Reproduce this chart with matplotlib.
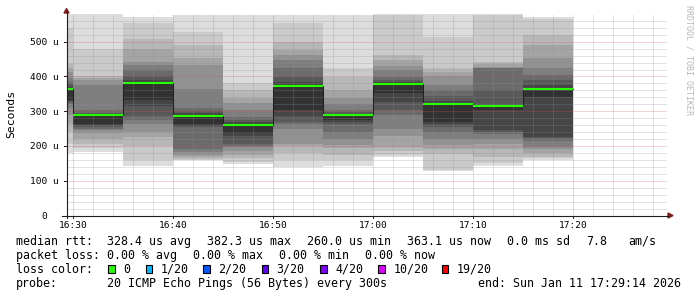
#!/usr/bin/env python3
# -*- coding: utf-8 -*-
"""SmokePing style latency graph: grey smoke bands + green median line."""

import numpy as np
import matplotlib
matplotlib.use("Agg")
import matplotlib.pyplot as plt
from matplotlib.lines import Line2D
from matplotlib.patches import Polygon, Rectangle

# ============================================================
#  data (RTTs in microseconds, 20 pings per 5 minute step)
# ============================================================
step_ends = ["16:30", "16:35", "16:40", "16:45", "16:50", "16:55",
             "17:00", "17:05", "17:10", "17:15", "17:20"]
median_us = [363, 289, 382.3, 287, 260.0, 374, 289, 377, 320, 315, 363.1]
pings_us = [
    [180, 207, 240, 262, 290, 310, 320, 326, 330, 332, 365, 370, 378, 385, 395, 413, 423, 437, 538, 600],
    [183, 195, 207, 221, 236, 245, 250, 255, 259, 262, 288, 292, 296, 303, 375, 389, 396, 400, 479, 600],
    [141, 161, 200, 226, 240, 262, 275, 286, 314, 332, 384, 390, 400, 418, 433, 442, 478, 507, 555, 572],
    [159, 161, 163, 168, 175, 183, 192, 255, 258, 264, 288, 294, 300, 308, 365, 433, 452, 490, 529, 578],
    [147, 155, 165, 175, 185, 197, 200, 207, 228, 236, 260, 268, 275, 284, 303, 323, 337, 361, 380, 578],
    [140, 160, 180, 200, 207, 250, 262, 269, 286, 303, 375, 385, 399, 423, 447, 461, 476, 500, 553, 578],
    [142, 160, 175, 195, 202, 221, 240, 262, 268, 274, 288, 293, 298, 303, 322, 337, 361, 399, 423, 578],
    [168, 175, 185, 197, 230, 250, 290, 303, 327, 351, 378, 383, 390, 399, 418, 430, 447, 461, 577, 579],
    [128, 130, 178, 190, 202, 220, 240, 255, 262, 269, 320, 330, 345, 360, 375, 400, 413, 423, 514, 579],
    [141, 150, 168, 192, 207, 220, 235, 240, 245, 303, 314, 318, 361, 423, 424, 428, 435, 442, 577, 579],
    [161, 164, 168, 180, 192, 197, 215, 224, 226, 341, 365, 375, 390, 404, 423, 452, 490, 519, 565, 572],
]

x_ticks = ["16:30", "16:40", "16:50", "17:00", "17:10", "17:20"]
y_ticks = [0, 100, 200, 300, 400, 500]
y_labels = ["0", "100 u", "200 u", "300 u", "400 u", "500 u"]

rtt_items = ["328.4 us avg", "382.3 us max", "260.0 us min", "363.1 us now"]
loss_items = ["0.00 % avg", "0.00 % max", "0.00 % min", "0.00 % now"]
loss_labels = ["0", "1/20", "2/20", "3/20", "4/20", "10/20", "19/20"]
loss_colors = ["#26ff00", "#00b8ff", "#0059ff", "#5e00ff", "#7e00ff", "#dd00ff", "#ff0000"]

W, H = 697, 297
MONO = "DejaVu Sans Mono"
plt.rcParams["lines.scale_dashes"] = False


def minutes(hhmm):
    h, m = hhmm.split(":")
    return int(h) * 60 + int(m)


def fx(x):
    return x / W


def fy(y):
    return 1 - y / H


fig = plt.figure(figsize=(W / 100, H / 100), dpi=100, facecolor="white")
# plot area in pixels: x 66.5 .. 666.5, y 13.9 .. 215.5
ax = fig.add_axes([fx(66.5), fy(215.5), 600 / W, (215.5 - 13.9) / H])
ax.set_xlim(989.35, 1049.35)
ax.set_ylim(0, 580)
ax.axis("off")

ends = np.array([minutes(t) for t in step_ends], dtype=float)
starts = ends - 5
pings = np.array(pings_us, dtype=float)

# smoke: nested bands, outer pair lightest, inner pair darkest
for k in range(10):
    g = (19 * (9 - k) + 50) / 255
    lo, hi = pings[:, k], pings[:, 19 - k]
    ax.bar(starts, hi - lo, bottom=lo, width=5, align="edge",
           color=(g, g, g), linewidth=0, zorder=1 + k * 0.01)

# grid on top of the smoke (rrdtool style dotted lines)
dots = (0, (0.72, 0.72))
for v in range(20, 580, 20):
    major = v % 100 == 0
    ax.axhline(v, color="#de5050" if major else "#8f8f8f",
               alpha=0.65 if major else 0.8, lw=0.55 if major else 0.45,
               linestyle=dots, zorder=3)
for t in range(990, 1050, 2):
    major = t % 10 == 0
    ax.axvline(t, color="#de5050" if major else "#8f8f8f",
               alpha=0.65 if major else 0.8, lw=0.55 if major else 0.45,
               linestyle=dots, zorder=3)

# median: dark step line, then green segments
xs = np.append(starts, ends[-1])
ys = np.append(median_us, median_us[-1])
ax.step(xs, ys, where="post", color="#202020", lw=0.75, zorder=4)
ax.hlines(median_us, starts, ends, color="#26ff00", lw=1.5, zorder=5)

# axes lines and arrows (figure pixel coordinates)
fig.add_artist(Line2D([fx(66.5), fx(66.5)], [fy(218), fy(11)], color="#1f1f1f", lw=0.8))
fig.add_artist(Line2D([fx(62), fx(669)], [fy(215.5), fy(215.5)], color="#1f1f1f", lw=0.8))
fig.add_artist(Polygon([[fx(64), fy(13)], [fx(69), fy(13)], [fx(66.5), fy(8.5)]],
                       closed=True, color="#801f1f", transform=fig.transFigure))
fig.add_artist(Polygon([[fx(668), fy(213)], [fx(668), fy(218)], [fx(673), fy(215.5)]],
                       closed=True, color="#801f1f", transform=fig.transFigure))

# ticks on the axes
for t in x_ticks:
    xp = 66.5 + (minutes(t) - 989.35) * 10
    fig.add_artist(Line2D([fx(xp), fx(xp)], [fy(215.5), fy(218)], color="#1f1f1f", lw=0.7))
    fig.text(fx(xp), fy(228.3), t, ha="center", va="baseline",
             family=MONO, fontsize=6.8, color="black")
for v, lab in zip(y_ticks, y_labels):
    yp = 215.5 - v * (215.5 - 13.9) / 580
    fig.add_artist(Line2D([fx(64), fx(66.5)], [fy(yp), fy(yp)], color="#1f1f1f", lw=0.7))
    xr = 58.3 if lab.endswith("u") else 47.5
    fig.text(fx(xr), fy(yp + 3.4), lab, ha="right", va="baseline",
             family=MONO, fontsize=6.8, color="black")

fig.text(fx(11), fy(114), "Seconds", rotation=90, ha="center", va="center",
         family=MONO, fontsize=8.2, color="black")
fig.text(fx(689), fy(5), "RRDTOOL / TOBI OETIKER", rotation=270, ha="center", va="top",
         family=MONO, fontsize=6, color="#b8b8b8")

# legend block
fs = 8.4
base1, base2, base3, base4 = 244.7, 258.7, 272.7, 286.7
fig.text(fx(16), fy(base1), "median rtt:", family=MONO, fontsize=fs, va="baseline")
for i, s in enumerate(rtt_items):
    fig.text(fx(107.3 + 100 * i), fy(base1), s, family=MONO, fontsize=fs, va="baseline")
fig.text(fx(506.7), fy(base1), "0.0 ms sd", family=MONO, fontsize=fs, va="baseline")
fig.text(fx(586.7), fy(base1), "7.8", family=MONO, fontsize=fs, va="baseline")
fig.text(fx(628.3), fy(base1), "am/s", family=MONO, fontsize=fs, va="baseline")

fig.text(fx(16), fy(base2), "packet loss:", family=MONO, fontsize=fs, va="baseline")
for i, s in enumerate(loss_items):
    fig.text(fx(107.3 + 86 * i), fy(base2), s, family=MONO, fontsize=fs, va="baseline")

fig.text(fx(16), fy(base3), "loss color:", family=MONO, fontsize=fs, va="baseline")
box_x = [108.3, 145.7, 203.3, 261.7, 320, 378.3, 441.7]
for bx, lab, col in zip(box_x, loss_labels, loss_colors):
    fig.add_artist(Rectangle((fx(bx), fy(273)), 6.5 / W, 8 / H, transform=fig.transFigure,
                             facecolor=col, edgecolor="black", lw=0.8))
    fig.text(fx(bx + 15), fy(base3), lab, family=MONO, fontsize=fs, va="baseline")

fig.text(fx(16), fy(base4), "probe:", family=MONO, fontsize=fs, va="baseline")
fig.text(fx(107.3), fy(base4), "20 ICMP Echo Pings (56 Bytes) every 300s",
         family=MONO, fontsize=fs, va="baseline")
fig.text(fx(478.3), fy(base4), "end: Sun Jan 11 17:29:14 2026",
         family=MONO, fontsize=fs, va="baseline")

fig.savefig("out.png", dpi=100, facecolor="white")
